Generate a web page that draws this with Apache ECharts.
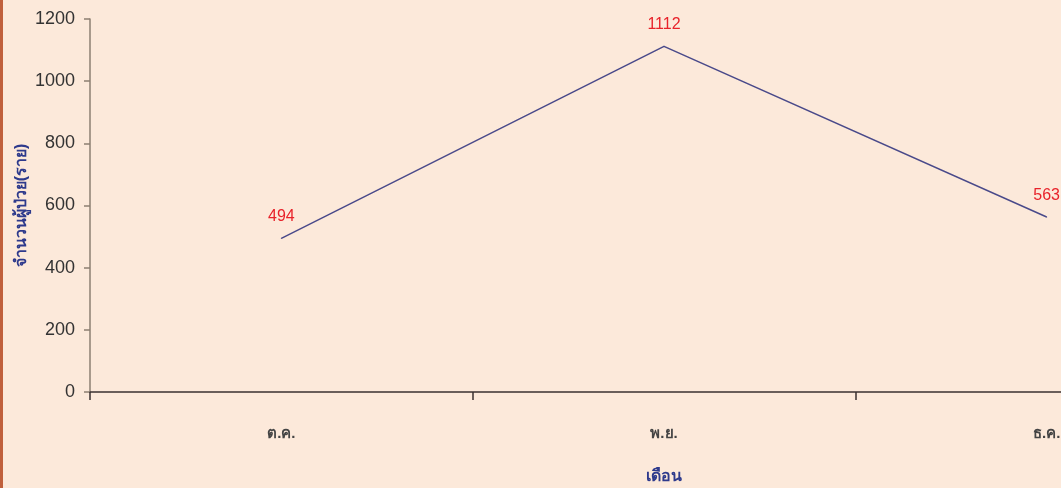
<!DOCTYPE html>
<html><head><meta charset="utf-8">
<script src="https://cdn.jsdelivr.net/npm/echarts@6/dist/echarts.min.js"></script>
<style>
html,body{margin:0;padding:0;background:#FCE9DA;}
#wrap{position:absolute;left:0;top:0;width:1061px;height:488px;overflow:hidden;}
#edge{position:absolute;left:0;top:0;width:3px;height:488px;background:#C0603C;z-index:2;}
#c{position:absolute;left:0;top:0;width:1061px;height:488px;}
</style></head>
<body><div id="wrap"><div id="edge"></div><div id="c"></div></div>
<script>
const categories = ['ต.ค.', 'พ.ย.', 'ธ.ค.'];
const patients = [494, 1112, 563];
const yTicks = [0, 200, 400, 600, 800, 1000, 1200];

const chart = echarts.init(document.getElementById('c'));
const font = "Tahoma, 'Liberation Sans', 'Noto Sans', sans-serif";
chart.setOption({
  backgroundColor: 'transparent',
  animation: false,
  grid: { left: 90, top: 19, right: -177, height: 373, outerBoundsMode: 'none', containLabel: false },
  xAxis: {
    type: 'category',
    data: categories,
    boundaryGap: true,
    name: 'เดือน',
    nameLocation: 'middle',
    nameGap: 77,
    nameMoveOverlap: false,
    nameTextStyle: { color: '#2E3A8C', fontSize: 16, fontWeight: 'bold', fontFamily: font },
    axisLine: { lineStyle: { color: '#3A3030', width: 1.5 } },
    axisTick: { show: true, length: 8, lineStyle: { color: '#3A3030', width: 1.5 } },
    axisLabel: { color: '#444', fontSize: 15, fontWeight: 'bold', margin: 34, fontFamily: font },
    splitLine: { show: false }
  },
  yAxis: {
    type: 'value',
    min: yTicks[0],
    max: yTicks[yTicks.length - 1],
    interval: 200,
    name: 'จำนวนผู้ป่วย(ราย)',
    nameLocation: 'middle',
    nameGap: 60,
    nameMoveOverlap: false,
    nameTextStyle: { color: '#2E3A8C', fontSize: 16, fontWeight: 'bold', fontFamily: font },
    axisLine: { show: true, lineStyle: { color: '#8C7F72', width: 1.5 } },
    axisTick: { show: true, length: 6, lineStyle: { color: '#8C7F72', width: 1.5 } },
    axisLabel: { color: '#333', fontSize: 18, margin: 15, formatter: v => String(v), fontFamily: "'Liberation Sans', Arial, sans-serif" },
    splitLine: { show: false }
  },
  series: [{
    type: 'line',
    data: patients,
    symbol: 'circle',
    symbolSize: 1,
    itemStyle: { color: '#4A4A8A' },
    lineStyle: { color: '#4A4A8A', width: 1.5 },
    label: {
      show: true, position: 'top', distance: 13,
      color: '#E8222A', fontSize: 16, fontFamily: "'Liberation Sans', Arial, sans-serif"
    }
  }]
});
</script></body></html>
